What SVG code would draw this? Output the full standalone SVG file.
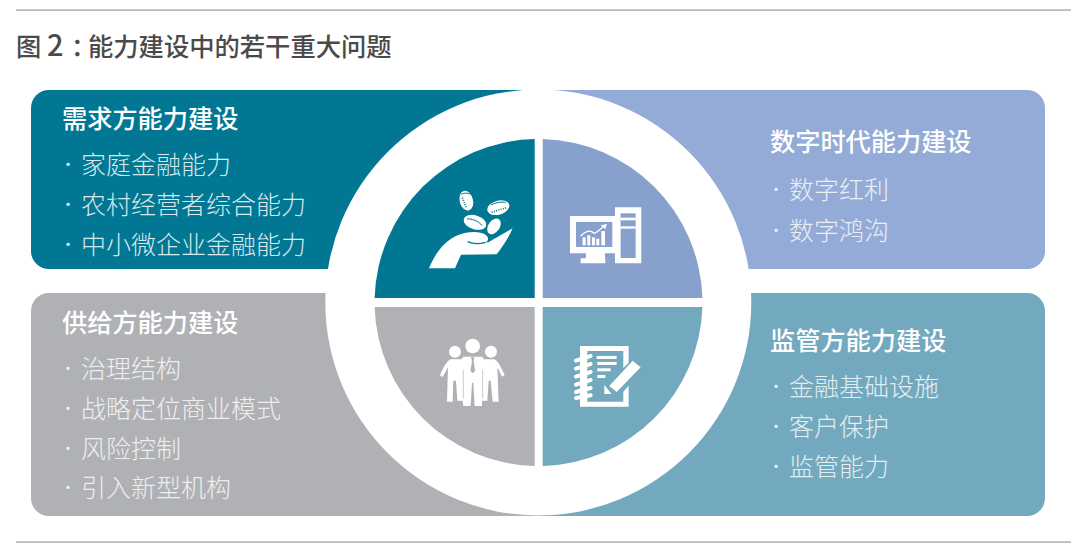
<svg xmlns="http://www.w3.org/2000/svg" width="1080" height="551" viewBox="0 0 1080 551">
<style>
text{font-family:"Noto Sans CJK SC","Noto Sans",sans-serif;font-size:25px}
.title{fill:#4a4a4a;font-weight:500;font-size:25.3px}
.h{fill:#fff;font-weight:500;font-size:25.2px}
.i{font-family:"Noto Sans CJK SC Light","Noto Sans CJK SC DemiLight","Noto Sans CJK SC","Noto Sans",sans-serif;font-weight:300}
.b{text-anchor:middle;font-size:18px}
.i1{fill:#d6e9ee}
.i2{fill:#eaeef7}
.i3{fill:#eeeeef}
.i4{fill:#e2eef2}
.w{fill:#fff}
</style>
<rect width="1080" height="551" fill="#fff"/>
<g id="rules">
<rect x="16" y="9.2" width="1055" height="1.8" fill="#bdbdbd"/>
<rect x="16" y="541.2" width="1055" height="1.8" fill="#bdbdbd"/>
</g>
<text class="title" x="16" y="56">图<tspan x="47" font-size="29">2</tspan><tspan x="71" letter-spacing="-9">：</tspan><tspan x="88">能力建设中的若干重大问题</tspan></text>
<g id="panels">
<path d="M538 90H49a18 18 0 0 0-18 18V251a18 18 0 0 0 18 18H538Z" fill="#017793"/>
<path d="M538 90H1027a18 18 0 0 1 18 18V251a18 18 0 0 1-18 18H538Z" fill="#93abd6"/>
<path d="M538 293H49a18 18 0 0 0-18 18V498a18 18 0 0 0 18 18H538Z" fill="#b0b1b5"/>
<path d="M538 293H1027a18 18 0 0 1 18 18V498a18 18 0 0 1-18 18H538Z" fill="#73a9be"/>
</g>
<circle id="ring" cx="538.3" cy="302.5" r="213" fill="#fff"/>
<g id="node-demand">
<path d="M534.7 298H374.6A164 164 0 0 1 534.7 139Z" fill="#017793"/>
<g transform="translate(425,185) scale(.3333)" fill="#fff">
<path d="M12 250C30 205 60 165 100 150C125 140 150 138 172 145C190 151 195 166 182 172L190 172L263 130C250 160 232 185 215 208L108 209L90 250Z"/>
<path d="M128 170C145 178 165 177 182 172" fill="none" stroke="#017793" stroke-width="4"/>
<ellipse cx="124" cy="47" rx="20" ry="30" transform="rotate(-15 124 47)"/>
<ellipse cx="220" cy="68" rx="34" ry="21" transform="rotate(-16 220 68)"/>
<ellipse cx="150" cy="112" rx="35" ry="21" transform="rotate(17 150 112)"/>
<ellipse cx="207" cy="124" rx="17" ry="26" transform="rotate(35 207 124)"/>
<path d="M112 38L124 68" fill="none" stroke="#017793" stroke-width="5" stroke-dasharray="3 4"/>
<path d="M200 82L245 68" fill="none" stroke="#017793" stroke-width="5" stroke-dasharray="3 4"/>
<path d="M126 102C140 100 160 108 172 122" fill="none" stroke="#017793" stroke-width="3"/>
<path d="M198 60C212 52 228 50 242 52" fill="none" stroke="#017793" stroke-width="3"/>
<path d="M108 28C116 24 128 22 136 28" fill="none" stroke="#017793" stroke-width="3"/>
</g>
</g>
<g id="node-digital">
<path d="M542.7 298H702.4A164 164 0 0 0 542.7 139Z" fill="#88a0cc"/>
<g transform="translate(360,130) scale(.3333)">
<path class="w" d="M630 258H768V370H735V385H736V400H662V385H678V370H630Z"/>
<path class="w" d="M765 232H844V400H765Z"/>
<rect x="648" y="276" width="109" height="75" fill="#88a0cc"/>
<path d="M782 250H827V384H782Z" fill="#88a0cc"/>
<rect class="w" x="782" y="263" width="45" height="8"/>
<rect class="w" x="782" y="289" width="45" height="7"/>
<g class="w">
<rect x="668" y="322" width="9" height="24"/>
<rect x="682" y="316" width="9" height="30"/>
<rect x="696" y="322" width="9" height="24"/>
<rect x="709" y="326" width="9" height="20"/>
<rect x="724" y="303" width="11" height="43"/>
</g>
<path d="M662 318C675 304 690 298 702 310C712 308 718 298 733 288" fill="none" stroke="#fff" stroke-width="4"/>
<path class="w" d="M722 286L741 282L736 298Z"/>
</g>
</g>
<g id="node-supply">
<path d="M534.7 307H374.6A164 164 0 0 0 534.7 466Z" fill="#b0b1b5"/>
<g transform="translate(360,130) scale(.3333)">
<g class="w">
<circle cx="338" cy="648" r="22"/>
<circle cx="285" cy="665" r="18"/>
<circle cx="393" cy="665" r="18"/>
<path d="M310 680H366L372 688H402C412 692 418 700 434 735L426 740L412 712L416 815H398L392 752H386L382 812H366L366 828H344L340 758H336L332 828H310L308 812H292L288 752H280L278 815H261L264 712L248 741L240 736C252 708 262 692 272 688H304Z"/>
</g>
<path d="M333 682H343L341 695L346 722L338 730L331 722L336 695Z" fill="#b0b1b5"/>
<path d="M310 720V805M368 720V805" stroke="#b0b1b5" stroke-width="2" fill="none"/>
</g>
</g>
<g id="node-regulator">
<path d="M542.7 307H702.4A164 164 0 0 1 542.7 466Z" fill="#73a9be"/>
<g transform="translate(360,130) scale(.3333)">
<path class="w" fill-rule="evenodd" d="M660 648H806V830H660V815H790V663H680V815H660Z"/>
<path d="M668 660H682V815H668Z" fill="#fff"/>
<g stroke="#fff" stroke-width="12" stroke-linecap="round" fill="none">
<path d="M648 692L692 678"/>
<path d="M648 716L692 702"/>
<path d="M648 740L692 726"/>
<path d="M648 764L692 750"/>
<path d="M648 786L692 774"/>
<path d="M648 804L692 796"/>
</g>
<g class="w">
<rect x="710" y="678" width="60" height="9"/>
<rect x="712" y="696" width="58" height="9"/>
<rect x="712" y="715" width="40" height="9"/>
<rect x="712" y="735" width="24" height="9"/>
</g>
<path d="M750 766L818 698L840 720L774 790Z" fill="#73a9be" stroke="#73a9be" stroke-width="16"/>
<path class="w" d="M748 768L818 692L842 712L770 786Z"/>
<path d="M733 765L755 792H733Z" fill="#fff"/>
</g>
</g>
<g id="text-demand">
<text class="h" x="62" y="128">需求方能力建设</text>
<text class="i i1 b" x="68" y="171">·</text><text class="i i1" x="81" y="174">家庭金融能力</text>
<text class="i i1 b" x="68" y="211">·</text><text class="i i1" x="81" y="214">农村经营者综合能力</text>
<text class="i i1 b" x="68" y="251">·</text><text class="i i1" x="81" y="254">中小微企业金融能力</text>
</g>
<g id="text-digital">
<text class="h" x="770" y="151">数字时代能力建设</text>
<text class="i i2 b" x="776" y="196">·</text><text class="i i2" x="789" y="199">数字红利</text>
<text class="i i2 b" x="776" y="237">·</text><text class="i i2" x="789" y="240">数字鸿沟</text>
</g>
<g id="text-supply">
<text class="h" x="62" y="332">供给方能力建设</text>
<text class="i i3 b" x="68" y="375">·</text><text class="i i3" x="81" y="378">治理结构</text>
<text class="i i3 b" x="68" y="415">·</text><text class="i i3" x="81" y="418">战略定位商业模式</text>
<text class="i i3 b" x="68" y="455">·</text><text class="i i3" x="81" y="458">风险控制</text>
<text class="i i3 b" x="68" y="494">·</text><text class="i i3" x="81" y="497">引入新型机构</text>
</g>
<g id="text-regulator">
<text class="h" x="770" y="350">监管方能力建设</text>
<text class="i i4 b" x="776" y="393">·</text><text class="i i4" x="789" y="396">金融基础设施</text>
<text class="i i4 b" x="776" y="433">·</text><text class="i i4" x="789" y="436">客户保护</text>
<text class="i i4 b" x="776" y="473">·</text><text class="i i4" x="789" y="476">监管能力</text>
</g>
</svg>
